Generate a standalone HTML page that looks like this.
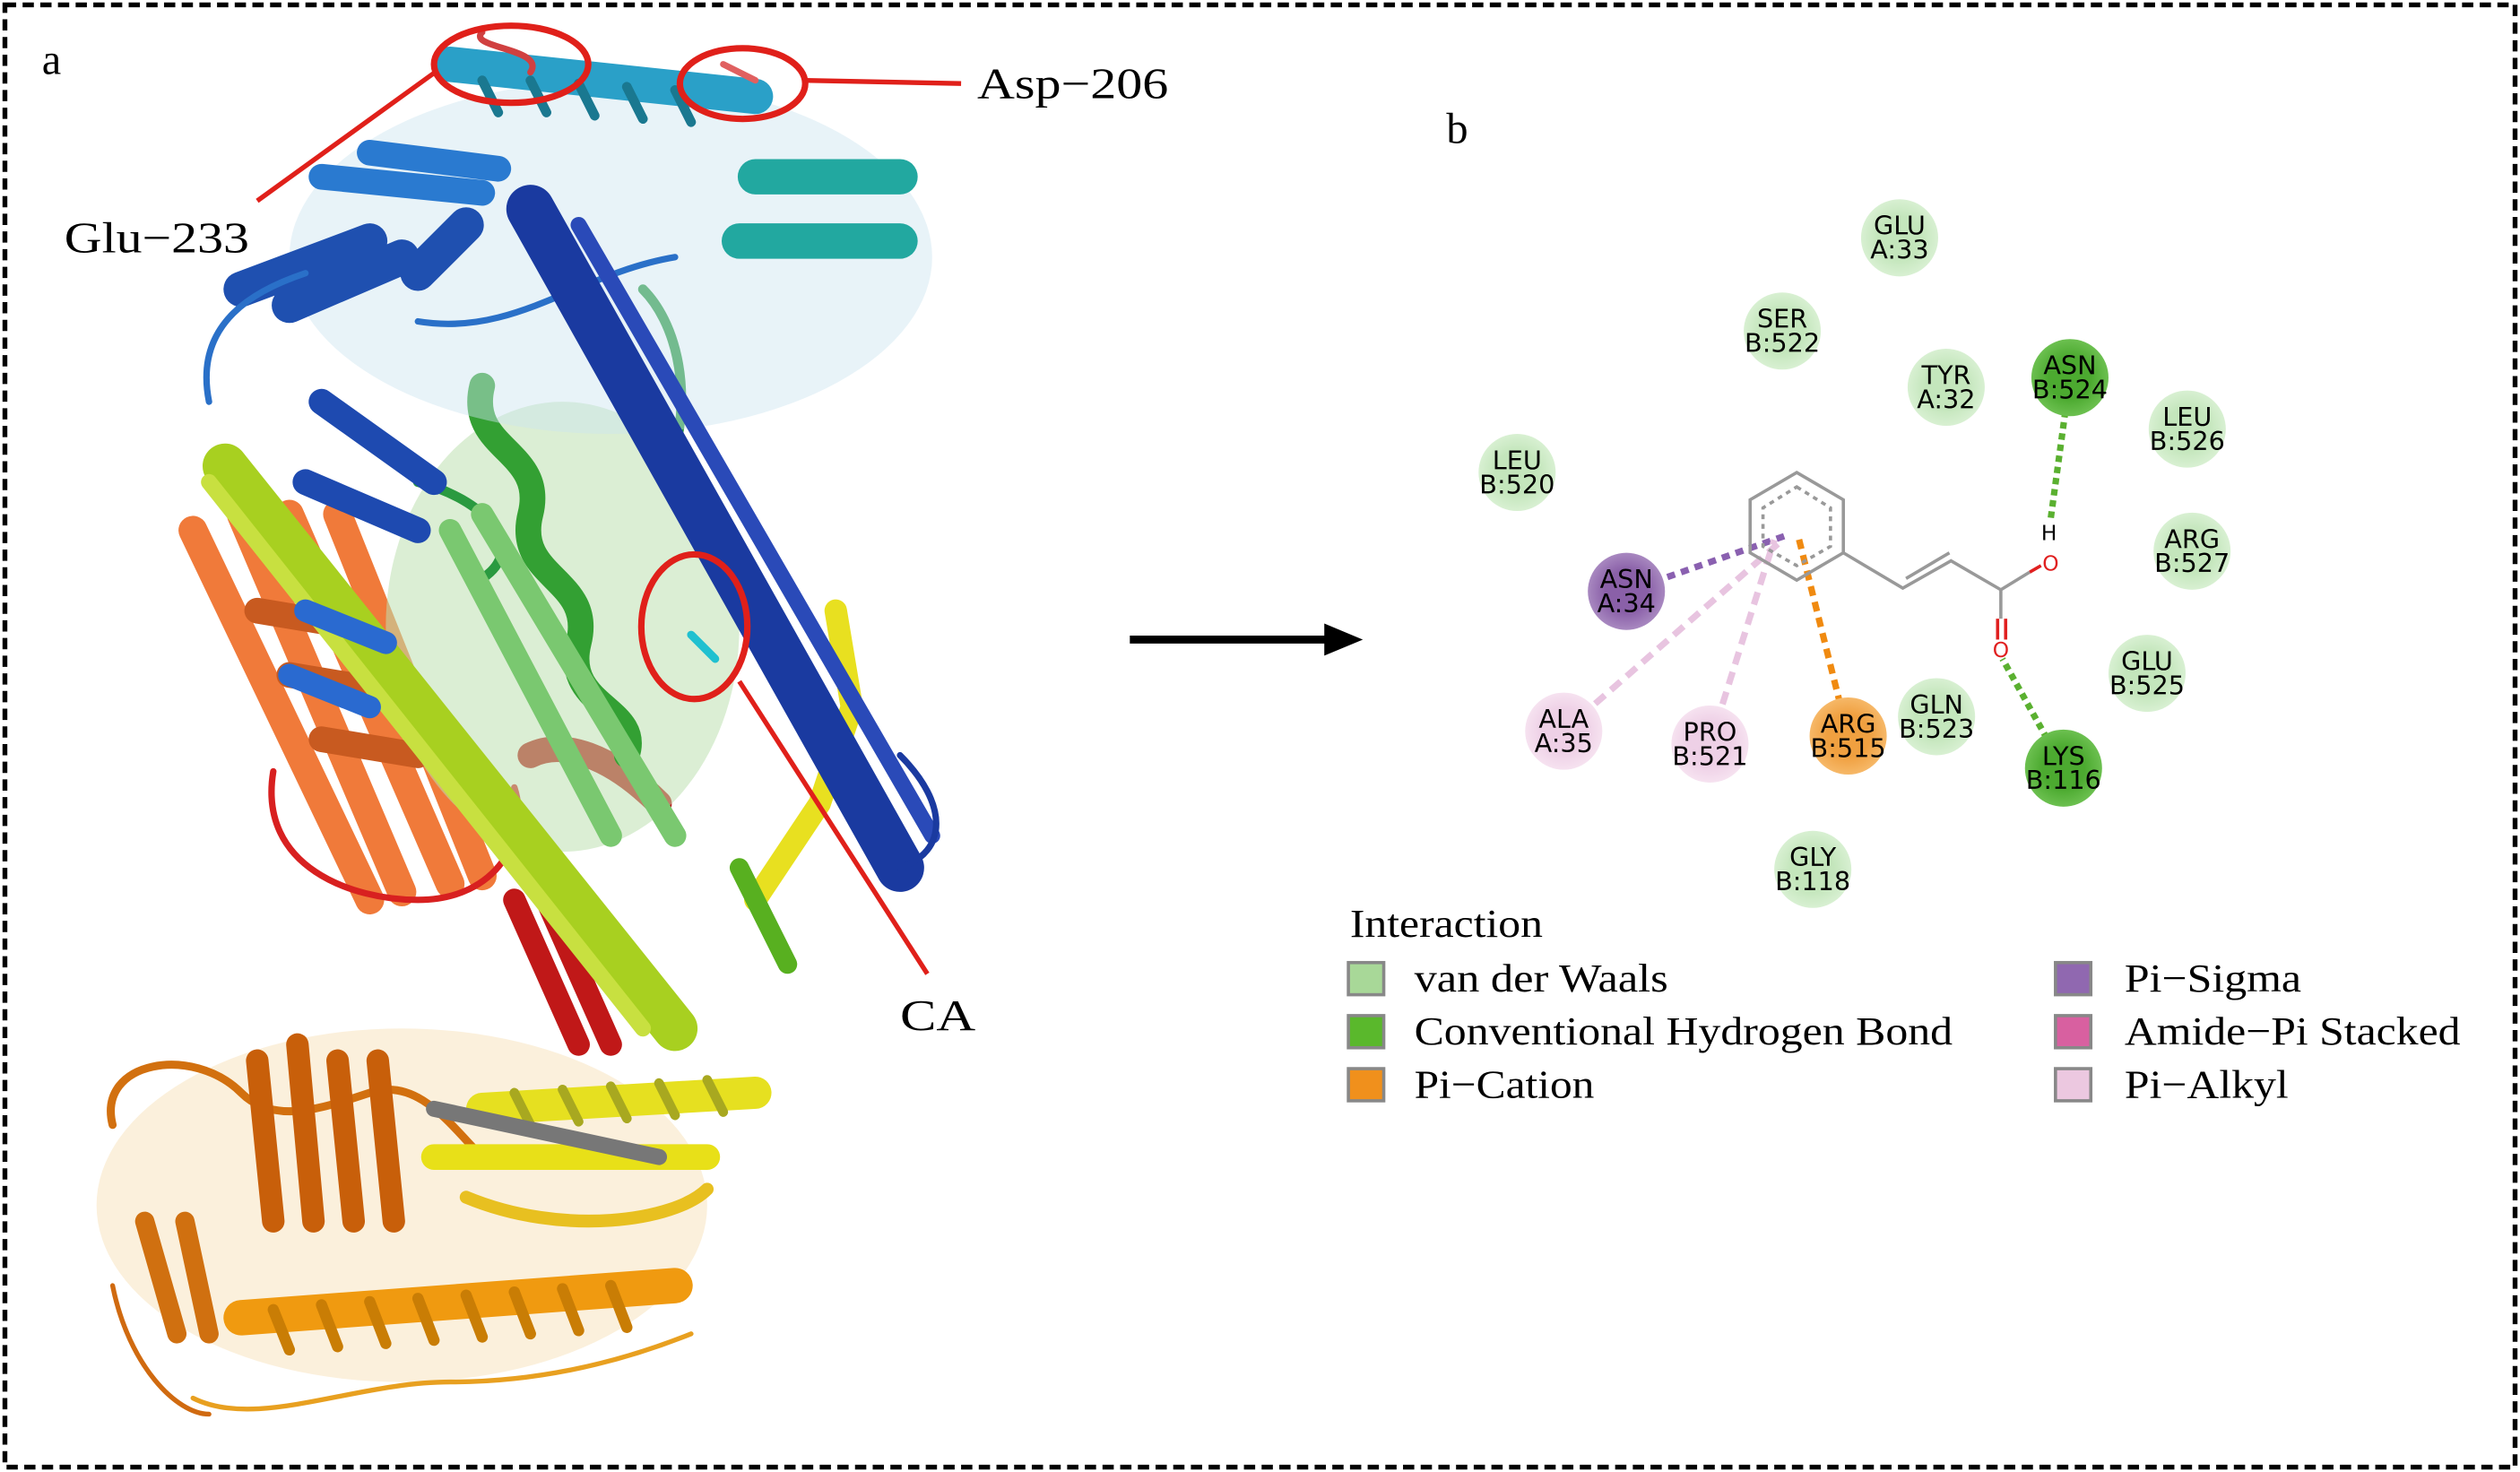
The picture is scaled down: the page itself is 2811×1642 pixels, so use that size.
<!DOCTYPE html>
<html><head><meta charset="utf-8"><style>
html,body{margin:0;padding:0;background:#fff}
svg{display:block}
</style></head><body>
<svg width="2811" height="1642" viewBox="0 0 1568 916" xmlns="http://www.w3.org/2000/svg" font-family="Liberation Serif, serif">
<rect x="3" y="3" width="1562" height="910" fill="none" stroke="#000" stroke-width="3" stroke-dasharray="7,4"/>
<g stroke-linecap="round" stroke-linejoin="round" fill="none">
 <ellipse cx="250" cy="750" rx="190" ry="110" fill="#f4d9a8" stroke="none" opacity="0.4"/>
 <path d="M70 700 C60 660 120 650 150 680 C170 700 200 690 230 680 C260 670 280 700 300 720" stroke="#d2700f" stroke-width="5"/>
 <path d="M160 660 L170 760 M185 650 L195 760 M210 660 L220 760 M235 660 L245 760" stroke="#c85f0a" stroke-width="14"/>
 <path d="M90 760 L110 830 M115 760 L130 830" stroke="#d07010" stroke-width="12"/>
 <path d="M150 820 L420 800" stroke="#f09a10" stroke-width="22"/>
 <path d="M170 815 L180 840 M200 812 L210 838 M230 810 L240 836 M260 808 L270 834 M290 806 L300 832 M320 804 L330 830 M350 802 L360 828 M380 800 L390 826" stroke="#c97d05" stroke-width="7"/>
 <path d="M120 870 C160 890 220 860 280 860 C330 860 380 850 430 830" stroke="#e8a020" stroke-width="3"/>
 <path d="M70 800 C80 850 110 880 130 880" stroke="#d06a10" stroke-width="3"/>
 <path d="M300 690 L470 680" stroke="#e6e020" stroke-width="20"/>
 <path d="M320 680 L330 700 M350 678 L360 698 M380 676 L390 696 M410 674 L420 694 M440 672 L450 692" stroke="#a8a820" stroke-width="6"/>
 <path d="M270 720 L440 720" stroke="#e8e018" stroke-width="16"/>
 <path d="M270 690 L410 720" stroke="#777" stroke-width="10"/>
 <path d="M290 745 C350 770 420 760 440 740" stroke="#e8c020" stroke-width="8"/>
 <path d="M120 330 L230 560 M150 320 L250 555 M180 320 L280 550 M210 320 L300 545" stroke="#f07a3a" stroke-width="18"/>
 <path d="M160 380 L220 390 M180 420 L240 430 M200 460 L260 470" stroke="#c85a20" stroke-width="16"/>
 <path d="M170 480 C160 540 220 560 260 560 C310 560 330 520 320 490" stroke="#d82020" stroke-width="4"/>
 <path d="M320 560 L360 650 M340 560 L380 650" stroke="#c01818" stroke-width="14"/>
 <path d="M330 470 C350 460 380 470 410 500" stroke="#b81010" stroke-width="16"/>
 <ellipse cx="350" cy="390" rx="110" ry="140" fill="#bde0b0" stroke="none" opacity="0.55"/>
 <path d="M300 240 C290 280 340 280 330 320 C320 360 370 360 360 400 C350 440 400 440 390 470" stroke="#33a033" stroke-width="16"/>
 <path d="M260 300 C300 310 330 340 300 360 M400 180 C420 200 430 240 420 280" stroke="#2a9a40" stroke-width="6"/>
 <path d="M280 330 L380 520 M300 320 L420 520" stroke="#7ac870" stroke-width="14"/>
 <path d="M140 290 L420 640" stroke="#a8d020" stroke-width="28"/>
 <path d="M130 300 L400 640" stroke="#c8e040" stroke-width="10"/>
 <path d="M470 560 L510 500 L530 440 L520 380" stroke="#e8e020" stroke-width="14"/>
 <path d="M460 540 L490 600" stroke="#58b020" stroke-width="12"/>
 <ellipse cx="380" cy="160" rx="200" ry="110" fill="#cde4f0" stroke="none" opacity="0.45"/>
 <path d="M150 180 L230 150 M180 190 L250 160 M260 170 L290 140" stroke="#1f50b0" stroke-width="22"/>
 <path d="M200 110 L300 120 M230 95 L310 105" stroke="#2a7ad0" stroke-width="16"/>
 <path d="M280 40 L470 60" stroke="#2aa0c8" stroke-width="22"/>
 <path d="M300 50 L310 70 M330 50 L340 70 M360 52 L370 72 M390 54 L400 74 M420 56 L430 76" stroke="#1a7890" stroke-width="6"/>
 <path d="M470 110 L560 110 M460 150 L560 150" stroke="#22a8a0" stroke-width="22"/>
 <path d="M130 250 C120 200 160 180 190 170 M260 200 C320 210 360 170 420 160" stroke="#2a70c8" stroke-width="4"/>
 <path d="M330 130 L560 540" stroke="#1a3aa0" stroke-width="30"/>
 <path d="M360 140 L580 520" stroke="#2a4ab8" stroke-width="10"/>
 <path d="M200 250 L270 300 M190 300 L260 330" stroke="#1e4ab0" stroke-width="16"/>
 <path d="M180 420 L230 440 M190 380 L240 400" stroke="#2a6ad0" stroke-width="14"/>
 <path d="M560 540 C590 530 590 500 560 470" stroke="#1a3aa0" stroke-width="4"/>
 <path d="M300 20 C290 30 340 30 330 45" stroke="#d04040" stroke-width="4"/>
 <path d="M450 40 L470 50" stroke="#e06060" stroke-width="4"/>
 <path d="M430 395 L445 410" stroke="#20c0d0" stroke-width="5"/>
</g>
<g fill="none" stroke="#e0201a" stroke-width="4">
 <ellipse cx="318" cy="40" rx="48" ry="24"/>
 <ellipse cx="462" cy="52" rx="39" ry="22"/>
 <ellipse cx="432" cy="390" rx="33" ry="45"/>
 <line x1="272" y1="44" x2="160" y2="125" stroke-width="3"/>
 <line x1="501" y1="50" x2="598" y2="52" stroke-width="3"/>
 <line x1="460" y1="424" x2="577" y2="606" stroke-width="3"/>
</g>
<g font-size="27" fill="#000">
 <text x="26" y="46">a</text>
 <text x="40" y="157" textLength="115" lengthAdjust="spacingAndGlyphs">Glu−233</text>
 <text x="608" y="61" textLength="119" lengthAdjust="spacingAndGlyphs">Asp−206</text>
 <text x="560" y="641" textLength="47" lengthAdjust="spacingAndGlyphs">CA</text>
 <text x="900" y="89">b</text>
</g>
<line x1="703" y1="398" x2="828" y2="398" stroke="#000" stroke-width="5"/>
<polygon points="848,398 824,388 824,408" fill="#000"/>
<g fill="none" stroke-width="4">
 <line x1="1012" y1="368" x2="1112" y2="333" stroke="#8a60b0" stroke-dasharray="5,4"/>
 <line x1="973" y1="455" x2="1108" y2="337" stroke="#e8c4e0" stroke-dasharray="8,5"/>
 <line x1="1064" y1="463" x2="1104" y2="336" stroke="#e8c4e0" stroke-dasharray="8,5"/>
 <line x1="1150" y1="458" x2="1119" y2="334" stroke="#f08a10" stroke-dasharray="6,4"/>
 <line x1="1288" y1="235" x2="1276" y2="323" stroke="#5ab030" stroke-dasharray="4,3"/>
 <line x1="1284" y1="478" x2="1246" y2="410" stroke="#5ab030" stroke-dasharray="4,3"/>
</g>
<g fill="none" stroke="#999" stroke-width="2">
 <polygon points="1118,294 1147,311 1147,344 1118,361 1089,344 1089,311"/>
 <polygon points="1118,303 1139,316 1139,340 1118,352 1097,340 1097,316" stroke-dasharray="3,3"/>
 <polyline points="1147,344 1184,366 1214,349 1245,367"/>
 <line x1="1186" y1="360" x2="1213" y2="344"/>
 <line x1="1245" y1="367" x2="1263" y2="356"/>
 <line x1="1245" y1="367" x2="1245" y2="385"/>
</g>
<g stroke="#e02020" stroke-width="2" fill="none">
 <line x1="1263" y1="356" x2="1270" y2="352"/>
 <line x1="1243" y1="385" x2="1243" y2="398"/><line x1="1248" y1="385" x2="1248" y2="398"/>
</g>
<g font-family="DejaVu Sans, sans-serif" font-size="13" text-anchor="middle">
 <text x="1276" y="355" fill="#e02020">O</text>
 <text x="1245" y="409" fill="#e02020">O</text>
 <text x="1275" y="336" fill="#000">H</text>
</g>
<defs>
 <radialGradient id="lg"><stop offset="0.55" stop-color="#c4e6bc"/><stop offset="1" stop-color="#d8f0d2"/></radialGradient>
 <radialGradient id="dg"><stop offset="0.55" stop-color="#4caa30"/><stop offset="1" stop-color="#6cc050"/></radialGradient>
 <radialGradient id="pg"><stop offset="0.55" stop-color="#8a60a8"/><stop offset="1" stop-color="#a888c0"/></radialGradient>
 <radialGradient id="kg"><stop offset="0.55" stop-color="#eed0e6"/><stop offset="1" stop-color="#f6e2f0"/></radialGradient>
 <radialGradient id="og"><stop offset="0.55" stop-color="#f0a040"/><stop offset="1" stop-color="#f6b868"/></radialGradient>
</defs>
<g font-family="DejaVu Sans, sans-serif" font-size="16" text-anchor="middle" fill="#000">
 <circle cx="1182" cy="148" r="24" fill="url(#lg)"/><text x="1182" y="146">GLU</text><text x="1182" y="161">A:33</text>
 <circle cx="1109" cy="206" r="24" fill="url(#lg)"/><text x="1109" y="204">SER</text><text x="1109" y="219">B:522</text>
 <circle cx="1211" cy="241" r="24" fill="url(#lg)"/><text x="1211" y="239">TYR</text><text x="1211" y="254">A:32</text>
 <circle cx="1288" cy="235" r="24" fill="url(#dg)"/><text x="1288" y="233">ASN</text><text x="1288" y="248">B:524</text>
 <circle cx="1361" cy="267" r="24" fill="url(#lg)"/><text x="1361" y="265">LEU</text><text x="1361" y="280">B:526</text>
 <circle cx="944" cy="294" r="24" fill="url(#lg)"/><text x="944" y="292">LEU</text><text x="944" y="307">B:520</text>
 <circle cx="1364" cy="343" r="24" fill="url(#lg)"/><text x="1364" y="341">ARG</text><text x="1364" y="356">B:527</text>
 <circle cx="1012" cy="368" r="24" fill="url(#pg)"/><text x="1012" y="366">ASN</text><text x="1012" y="381">A:34</text>
 <circle cx="1336" cy="419" r="24" fill="url(#lg)"/><text x="1336" y="417">GLU</text><text x="1336" y="432">B:525</text>
 <circle cx="973" cy="455" r="24" fill="url(#kg)"/><text x="973" y="453">ALA</text><text x="973" y="468">A:35</text>
 <circle cx="1064" cy="463" r="24" fill="url(#kg)"/><text x="1064" y="461">PRO</text><text x="1064" y="476">B:521</text>
 <circle cx="1150" cy="458" r="24" fill="url(#og)"/><text x="1150" y="456">ARG</text><text x="1150" y="471">B:515</text>
 <circle cx="1205" cy="446" r="24" fill="url(#lg)"/><text x="1205" y="444">GLN</text><text x="1205" y="459">B:523</text>
 <circle cx="1284" cy="478" r="24" fill="url(#dg)"/><text x="1284" y="476">LYS</text><text x="1284" y="491">B:116</text>
 <circle cx="1128" cy="541" r="24" fill="url(#lg)"/><text x="1128" y="539">GLY</text><text x="1128" y="554">B:118</text>
</g>
<g font-size="25" fill="#000" lengthAdjust="spacingAndGlyphs">
 <text x="840" y="583" textLength="120" lengthAdjust="spacingAndGlyphs">Interaction</text>
 <rect x="839" y="599" width="22" height="20" fill="#a8d898" stroke="#888" stroke-width="2"/><text x="880" y="617" textLength="158" lengthAdjust="spacingAndGlyphs">van der Waals</text>
 <rect x="839" y="632" width="22" height="20" fill="#5ab82c" stroke="#888" stroke-width="2"/><text x="880" y="650" textLength="335" lengthAdjust="spacingAndGlyphs">Conventional Hydrogen Bond</text>
 <rect x="839" y="665" width="22" height="20" fill="#f0901c" stroke="#888" stroke-width="2"/><text x="880" y="683" textLength="112" lengthAdjust="spacingAndGlyphs">Pi−Cation</text>
 <rect x="1279" y="599" width="22" height="20" fill="#9068b0" stroke="#888" stroke-width="2"/><text x="1322" y="617" textLength="110" lengthAdjust="spacingAndGlyphs">Pi−Sigma</text>
 <rect x="1279" y="632" width="22" height="20" fill="#d860a0" stroke="#888" stroke-width="2"/><text x="1322" y="650" textLength="209" lengthAdjust="spacingAndGlyphs">Amide−Pi Stacked</text>
 <rect x="1279" y="665" width="22" height="20" fill="#ecc8e0" stroke="#888" stroke-width="2"/><text x="1322" y="683" textLength="102" lengthAdjust="spacingAndGlyphs">Pi−Alkyl</text>
</g>
</svg>
</body></html>
